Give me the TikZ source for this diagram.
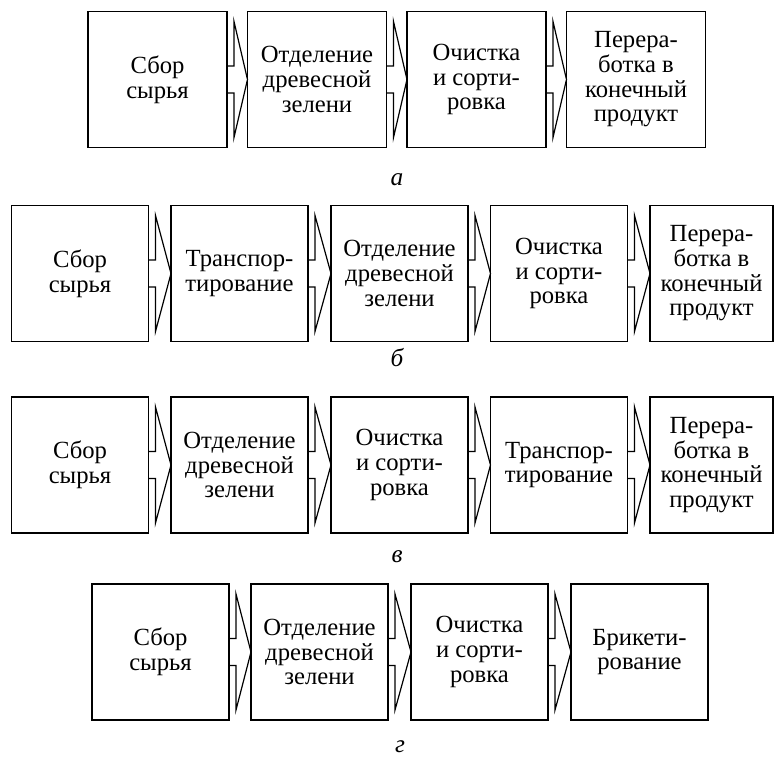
\documentclass[tikz,border=0pt]{standalone}
\usepackage{fontspec}
\setmainfont{Liberation Serif}
\usetikzlibrary{calc}

\tikzset{
  etap/.style={draw, line width=1.1pt, outer sep=0pt, inner sep=0pt,
    minimum width=102.75pt, minimum height=102pt, align=center,
    font=\fontsize{18.5}{18.5}\selectfont},
  etapkr/.style={etap, minimum width=92.25pt},
  strelka/.style={line width=0.9pt, line join=miter},
  podpis/.style={font=\fontsize{19}{20}\selectfont\itshape}
}

\begin{document}
\begin{tikzpicture}[x=0.75pt, y=0.75pt]
		\useasboundingbox (0,0) rectangle (775,760);
		
		% Row a
		\node[etap, minimum width=104.25pt] (a1) at (157.5,680.5) {Сбор\\сырья};
		\node[etap, minimum width=104.25pt] (a2) at (317,680.5) {Отделение\\древесной\\зелени};
		\node[etap, minimum width=104.25pt] (a3) at (476.5,680.5) {Очистка\\и сорти-\\ровка};
		\node[etap, minimum width=104.25pt] (a4) at (636,680.5) {Перера-\\ботка в\\конечный\\продукт};
		\node[podpis] (la) at (397,580) {а};
		
		% Row b
		\node[etap] (b1) at (80,486.5) {Сбор\\сырья};
		\node[etap] (b2) at (239.5,486.5) {Транспор-\\тирование};
		\node[etap] (b3) at (399.5,486.5) {Отделение\\древесной\\зелени};
		\node[etap] (b4) at (559,486.5) {Очистка\\и сорти-\\ровка};
		\node[etapkr] (b5) at (711.5,486.5) {Перера-\\ботка в\\конечный\\продукт};
		\node[podpis] (lb) at (397,402) {б};
		
		% Row v
		\node[etap] (v1) at (80,295) {Сбор\\сырья};
		\node[etap] (v2) at (239.5,295) {Отделение\\древесной\\зелени};
		\node[etap] (v3) at (399.5,295) {Очистка\\и сорти-\\ровка};
		\node[etap] (v4) at (559,295) {Транспор-\\тирование};
		\node[etapkr] (v5) at (711.5,295) {Перера-\\ботка в\\конечный\\продукт};
		\node[podpis] (lv) at (397,203) {в};
		
		% Row g
		\node[etap] (g1) at (160.5,108) {Сбор\\сырья};
		\node[etap] (g2) at (319.5,108) {Отделение\\древесной\\зелени};
		\node[etap] (g3) at (479.5,108) {Очистка\\и сорти-\\ровка};
		\node[etap] (g4) at (639.5,108) {Брикети-\\рование};
		\node[podpis] (lg) at (400,13) {г};
		
		% Arrows between stages
		\foreach \p/\q in {a1/a2,a2/a3,a3/a4,b1/b2,b2/b3,b3/b4,b4/b5,
		                   v1/v2,v2/v3,v3/v4,v4/v5,g1/g2,g2/g3,g3/g4}
		  \draw[strelka] ($(\p.east)+(0,13.5)$) -- ++(7,0) -- ++(0,44.5)
		    -- (\q.west) -- ($(\p.east)+(7,-58)$) -- ++(0,44.5) -- ++(-7,0);
		
	\end{tikzpicture}
\end{document}
